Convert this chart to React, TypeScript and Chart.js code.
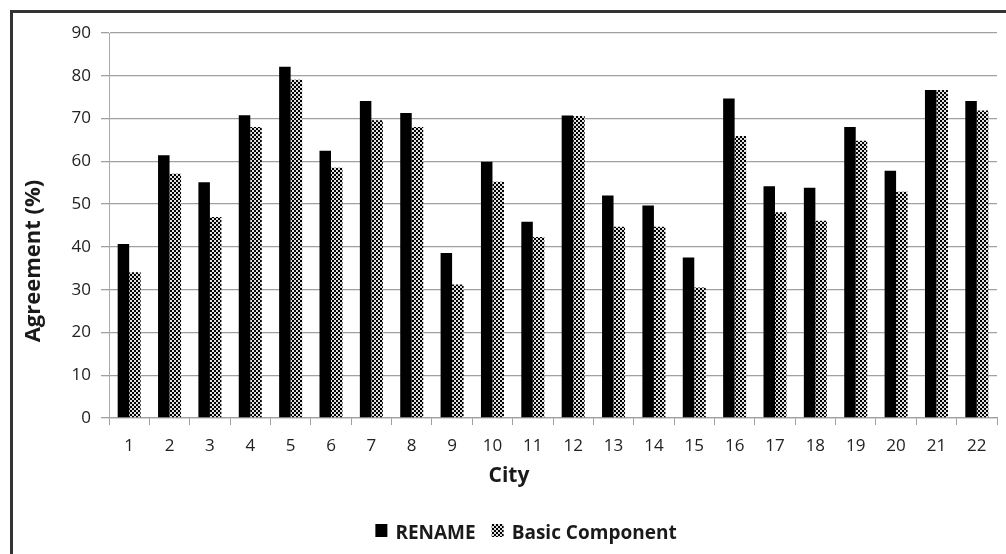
import React, { useEffect, useRef } from "react";
import { Chart, registerables } from "chart.js";

Chart.register(...registerables);

const cities = ["1","2","3","4","5","6","7","8","9","10","11","12","13","14","15","16","17","18","19","20","21","22"];
const renameValues = [40.7, 61.4, 55.1, 70.8, 82.1, 62.5, 74.1, 71.3, 38.6, 59.9, 45.9, 70.7, 52.0, 49.7, 37.5, 74.7, 54.2, 53.8, 68.0, 57.8, 76.7, 74.1];
const basicValues = [34.1, 57.1, 47.0, 68.0, 79.1, 58.5, 69.6, 68.0, 31.2, 55.2, 42.3, 70.6, 44.7, 44.7, 30.5, 65.9, 48.1, 46.1, 64.8, 52.9, 76.7, 71.9];
const seriesNames = ["RENAME", "Basic Component"];
const yTitle = "Agreement (%)";
const xTitle = "City";

function makePattern(): CanvasPattern | string {
  const c = document.createElement("canvas");
  c.width = 4;
  c.height = 4;
  const g = c.getContext("2d");
  if (!g) return "#666";
  g.fillStyle = "#e0e0e0";
  g.fillRect(0, 0, 4, 4);
  g.fillStyle = "#000";
  g.fillRect(0, 0, 2, 2);
  g.fillRect(2, 2, 2, 2);
  return g.createPattern(c, "repeat") || "#666";
}

const labelsPlugin = {
  id: "customLabels",
  afterDraw(chart: any) {
    const ctx = chart.ctx as CanvasRenderingContext2D;
    ctx.save();
    ctx.fillStyle = "#1a1a1a";
    // y title
    ctx.font = "bold 22px 'Open Sans'";
    ctx.textAlign = "center";
    ctx.textBaseline = "alphabetic";
    ctx.save();
    ctx.translate(40, 261);
    ctx.rotate(-Math.PI / 2);
    ctx.fillText(yTitle, 0, 0);
    ctx.restore();
    // x title
    ctx.font = "bold 21px 'Open Sans'";
    ctx.fillText(xTitle, 509, 482);
    // legend
    ctx.font = "bold 19px 'Open Sans'";
    const ds = chart.data.datasets;
    const box = 12;
    const gap = 8;
    const spacing = 16;
    const widths = ds.map((d: any) => ctx.measureText(d.label).width);
    let total = 0;
    widths.forEach((w: number, i: number) => {
      total += box + gap + w + (i < widths.length - 1 ? spacing : 0);
    });
    let x = 526 - total / 2;
    ctx.textAlign = "left";
    ds.forEach((d: any, i: number) => {
      ctx.fillStyle = d.backgroundColor;
      ctx.fillRect(x, 524, box, 13);
      ctx.fillStyle = "#1a1a1a";
      ctx.fillText(d.label, x + box + gap, 538.5);
      x += box + gap + widths[i] + spacing;
    });
    ctx.restore();
  },
};

export default function App() {
  const ref = useRef<HTMLCanvasElement>(null);
  useEffect(() => {
    if (!ref.current) return;
    const pattern = makePattern();
    const chart = new Chart(ref.current, {
      type: "bar",
      data: {
        labels: cities,
        datasets: [
          { label: seriesNames[0], data: renameValues, backgroundColor: "#000000", borderWidth: 0 },
          { label: seriesNames[1], data: basicValues, backgroundColor: pattern as any, borderWidth: 0 },
        ],
      },
      options: {
        responsive: false,
        animation: false,
        devicePixelRatio: 1,
        layout: { padding: { left: 0, top: 33, right: 9, bottom: 0 } },
        plugins: {
          legend: { display: false },
          tooltip: { enabled: false },
        },
        datasets: { bar: { categoryPercentage: 0.57, barPercentage: 1.0 } },
        scales: {
          x: {
            afterFit: (s: any) => {
              s.height = 136;
            },
            grid: {
              display: true,
              drawOnChartArea: false,
              drawTicks: true,
              tickLength: 7,
              color: "#a0a0a0",
              lineWidth: 1,
            },
            border: { display: true, color: "#a0a0a0", width: 1.3 },
            ticks: {
              font: { family: "'Open Sans'", size: 17 },
              color: "#222",
              padding: 11,
              maxRotation: 0,
            },
          },
          y: {
            min: 0,
            max: 90,
            afterFit: (s: any) => {
              s.width = 109;
            },
            grid: {
              color: "#a0a0a0",
              lineWidth: 1.3,
              tickLength: 8,
            },
            border: { display: true, color: "#aaaaaa", width: 1 },
            ticks: {
              stepSize: 10,
              font: { family: "'Open Sans'", size: 17 },
              color: "#222",
              padding: 10,
            },
          },
        },
      },
      plugins: [labelsPlugin],
    });
    return () => chart.destroy();
  }, []);

  return (
    <div style={{ position: "fixed", left: 0, top: 0, width: 1006, height: 554, background: "#fff", overflow: "hidden" }}>
      <canvas ref={ref} width={1006} height={554} style={{ position: "absolute", left: 0, top: 0, width: 1006, height: 554 }} />
      <div
        style={{
          position: "absolute",
          left: 10,
          top: 10,
          width: 1100,
          height: 700,
          borderLeft: "3px solid #333",
          borderTop: "3px solid #333",
          pointerEvents: "none",
        }}
      />
    </div>
  );
}
